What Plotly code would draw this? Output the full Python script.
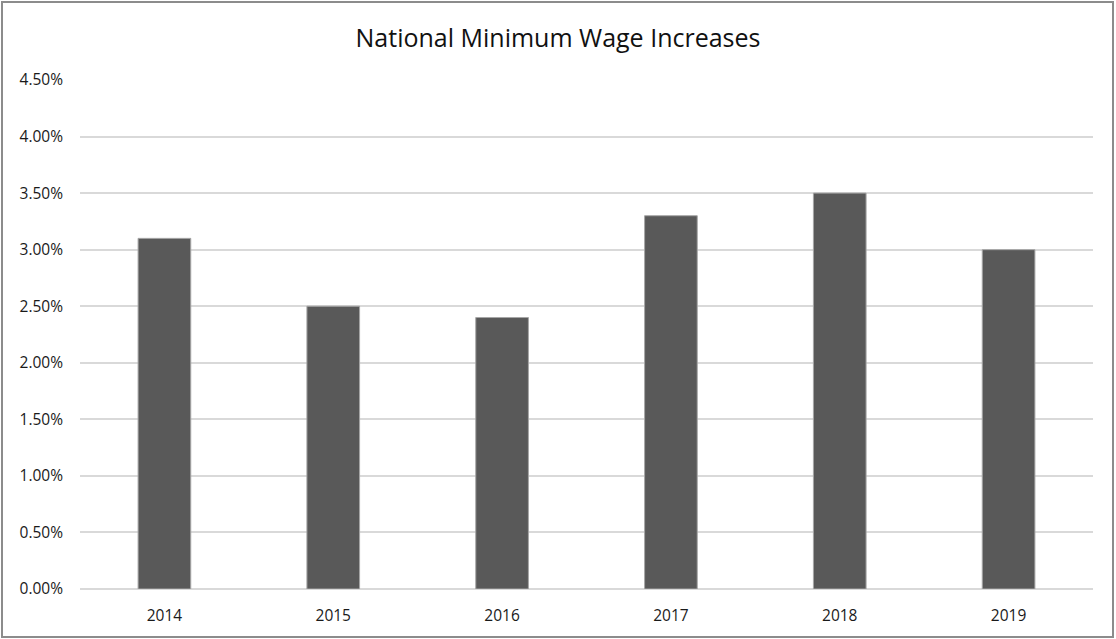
"""National Minimum Wage Increases, as a plain Excel-style column chart."""
import plotly.graph_objects as go

years = ["2014", "2015", "2016", "2017", "2018", "2019"]
increase_pct = [3.1, 2.5, 2.4, 3.3, 3.5, 3.0]
y_ticks = [0.0, 0.5, 1.0, 1.5, 2.0, 2.5, 3.0, 3.5, 4.0, 4.5]
y_tick_labels = [f"{v:.2f}%" for v in y_ticks]

W, H = 1116, 639
L, R, T, B = 80, 23, 80, 50
pw, ph = W - L - R, H - T - B

fig = go.Figure(go.Bar(
    x=years, y=increase_pct,
    marker=dict(color="#595959", line=dict(color="#a6a6a6", width=1)),
))

fig.update_layout(
    width=W, height=H,
    margin=dict(l=L, r=R, t=T, b=B),
    paper_bgcolor="white", plot_bgcolor="white",
    bargap=0.688, showlegend=False,
    font=dict(family="Open Sans, Liberation Sans, sans-serif", size=15, color="#1a1a1a"),
    title=dict(text="National Minimum Wage Increases", x=0.5, xanchor="center",
               y=1 - 38 / H, yanchor="middle",
               font=dict(size=25, color="#111")),
    xaxis=dict(showgrid=False, showline=False, ticks="", ticklen=0,
               ticklabelstandoff=15, tickfont=dict(size=15.5)),
    yaxis=dict(range=[0, 4.5], tickvals=y_ticks, ticktext=y_tick_labels,
               showgrid=True, gridcolor="#d9d9d9", gridwidth=1.5,
               zeroline=True, zerolinecolor="#d9d9d9", zerolinewidth=1.5,
               showline=False, ticks="", ticklabelstandoff=16,
               tickfont=dict(size=15.5)),
)

# chart-area border, like the Excel frame
fig.add_shape(type="rect", xref="paper", yref="paper",
              x0=-(L - 2) / pw, x1=1 + (R - 3) / pw,
              y0=-(B - 2) / ph, y1=1 + (T - 2) / ph,
              line=dict(color="#8c8c8c", width=2), layer="below")

# drop the page's default body margin so the figure sits at the window origin
fig.write_html("out.html", config={"displayModeBar": False},
               post_script="document.body.style.margin='0';"
                           "document.body.style.overflow='hidden';")
